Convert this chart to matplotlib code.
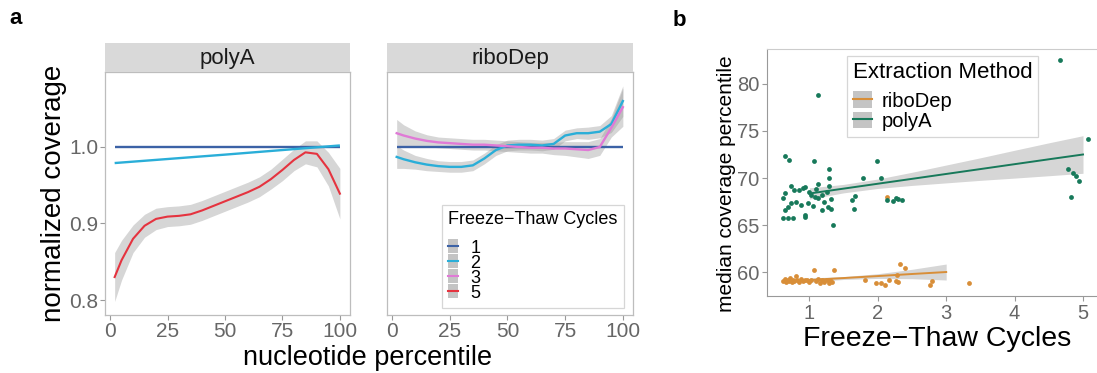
import matplotlib
matplotlib.use('Agg')
import matplotlib.pyplot as plt
from matplotlib.lines import Line2D
from matplotlib.patches import Patch
import numpy as np

plt.rcParams['font.family'] = ['Liberation Sans', 'DejaVu Sans']

# ---------------- data: panel a ----------------
pct = [2, 5, 10, 15, 20, 25, 30, 35, 40, 45, 50, 55, 60, 65, 70, 75, 80, 85, 90, 95, 100]

# polyA facet
polyA_c1_x = [2, 100]
polyA_c1_y = [1.0, 1.0]
polyA_c2_x = [2, 50, 100]
polyA_c2_y = [0.979, 0.990, 1.002]
polyA_c5_y = [0.830, 0.852, 0.880, 0.897, 0.906, 0.909, 0.910, 0.912, 0.917, 0.923, 0.929,
              0.935, 0.941, 0.948, 0.958, 0.970, 0.983, 0.993, 0.991, 0.971, 0.939]
polyA_c5_se = [0.032, 0.026, 0.018, 0.015, 0.014, 0.013, 0.013, 0.013, 0.013, 0.013, 0.013,
               0.013, 0.013, 0.013, 0.013, 0.014, 0.014, 0.015, 0.017, 0.022, 0.033]

# riboDep facet
ribo_c1_x = [2, 100]
ribo_c1_y = [1.0, 1.0]
ribo_c2_y = [0.987, 0.984, 0.980, 0.977, 0.975, 0.974, 0.974, 0.976, 0.985, 0.996, 1.002,
             1.003, 1.003, 1.002, 1.004, 1.015, 1.018, 1.018, 1.020, 1.030, 1.060]
ribo_c2_se = [0.015, 0.012, 0.009, 0.008, 0.007, 0.007, 0.007, 0.007, 0.007, 0.007, 0.007,
              0.007, 0.007, 0.007, 0.007, 0.007, 0.007, 0.008, 0.008, 0.011, 0.020]
ribo_c3_y = [1.018, 1.015, 1.011, 1.008, 1.006, 1.005, 1.004, 1.003, 1.003, 1.002, 1.001,
             1.000, 0.999, 0.999, 0.998, 0.998, 0.997, 0.996, 1.000, 1.025, 1.052]
ribo_c3_se = [0.018, 0.014, 0.010, 0.008, 0.007, 0.007, 0.007, 0.007, 0.007, 0.007, 0.007,
              0.007, 0.007, 0.007, 0.008, 0.009, 0.010, 0.011, 0.011, 0.012, 0.025]

cycle_labels = ['1', '2', '3', '5']
cycle_colors = ['#3c62a6', '#2aaed8', '#e07ad6', '#e5333f']

# ---------------- data: panel b ----------------
polyA_x = [0.64, 0.70, 1.07, 1.13, 1.99, 1.28, 1.28, 1.28, 1.78, 2.05, 4.67, 5.08, 4.78, 4.85,
           4.90, 4.94, 4.82, 1.13, 0.73, 0.78, 0.85, 0.64, 0.61, 1.00, 1.02, 1.19, 1.31, 1.22,
           0.73, 0.81, 0.88, 0.69, 0.64, 0.98, 1.05, 1.27, 1.31, 1.19, 1.63, 1.65, 1.67, 0.61,
           0.68, 0.76, 0.93, 0.94, 1.34, 2.14, 2.22, 2.26, 2.30, 2.35, 1.10, 1.25, 0.93, 1.08,
           1.12, 0.90]
polyA_y = [72.3, 71.9, 71.8, 78.8, 71.8, 71.0, 70.0, 69.1, 70.0, 70.0, 82.55, 74.1, 71.0, 70.5,
           70.2, 69.7, 68.0, 69.4, 69.1, 68.7, 68.7, 68.4, 67.9, 68.5, 68.2, 68.2, 67.8, 67.5,
           67.3, 67.4, 67.1, 66.9, 66.6, 67.3, 67.0, 66.9, 66.7, 66.6, 67.7, 66.7, 68.1, 65.7,
           65.7, 65.7, 65.8, 66.1, 65.0, 67.7, 67.6, 67.9, 67.8, 67.7, 68.8, 68.5, 69.0, 68.0,
           67.9, 68.9]
ribo_x = [0.62, 0.64, 0.66, 0.68, 0.70, 0.72, 0.74, 0.76, 0.78, 0.80, 0.82, 0.85, 0.88, 0.90,
          0.93, 0.96, 1.00, 1.03, 1.07, 1.10, 1.13, 1.16, 1.19, 1.22, 1.25, 1.28, 1.30, 1.33,
          1.36, 1.82, 1.97, 2.04, 2.11, 2.16, 2.26, 2.28, 2.33, 2.40, 2.30, 2.76, 2.79, 3.34,
          2.13]
ribo_y = [59.0, 59.3, 58.9, 59.2, 59.0, 59.4, 58.9, 59.2, 59.0, 59.6, 59.1, 58.9, 59.3, 59.0,
          59.2, 59.1, 58.9, 59.2, 60.2, 59.0, 59.3, 58.8, 59.1, 58.9, 59.2, 58.8, 59.1, 58.9,
          60.2, 59.15, 58.8, 58.8, 58.6, 59.15, 59.0, 59.7, 60.9, 60.4, 58.9, 58.6, 59.0, 58.8,
          68.0]

fit_polyA_x = [1.0, 1.5, 2.0, 2.5, 3.0, 3.5, 4.0, 4.5, 5.0]
fit_polyA_y = [68.35, 68.87, 69.39, 69.91, 70.43, 70.95, 71.47, 71.99, 72.5]
fit_polyA_se = [0.6, 0.45, 0.5, 0.7, 0.95, 1.2, 1.48, 1.75, 2.0]
fit_ribo_x = [1.0, 1.5, 2.0, 2.5, 3.0]
fit_ribo_y = [59.15, 59.36, 59.57, 59.79, 60.0]
fit_ribo_se = [0.22, 0.15, 0.25, 0.5, 0.85]

method_labels = ['riboDep', 'polyA']
method_colors = ['#d88e38', '#17795a']

# ---------------- layout ----------------
W, H = 1097, 373
fig = plt.figure(figsize=(W / 100, H / 100), dpi=100)


def rect(l, t, r, b):
    return [l / W, 1 - b / H, (r - l) / W, (b - t) / H]


axA1 = fig.add_axes(rect(105, 72, 350, 315))
axA2 = fig.add_axes(rect(387, 72, 633, 315))
axB = fig.add_axes(rect(767, 49, 1096, 296))

tick_col = '#666666'
for ax in (axA1, axA2):
    ax.set_xlim(-2.2, 104.4)
    ax.set_ylim(0.7804, 1.098)
    ax.set_xticks([0, 25, 50, 75, 100])
    ax.tick_params(axis='both', length=3.5, width=0.8, color='#999999',
                   labelcolor=tick_col, labelsize=15, pad=1.5)
    for s in ax.spines.values():
        s.set_color('#bdbdbd')
        s.set_linewidth(0.9)
axA1.set_yticks([0.8, 0.9, 1.0])
axA1.set_yticklabels(['0.8', '0.9', '1.0'])
axA2.set_yticks([])

# strips
for (l, r, lab) in ((105, 350, 'polyA'), (387, 633, 'riboDep')):
    sax = fig.add_axes(rect(l, 43, r, 72))
    sax.set_xticks([]); sax.set_yticks([])
    sax.set_facecolor('#d9d9d9')
    for s in sax.spines.values():
        s.set_visible(False)
    sax.text(0.5, 0.47, lab, ha='center', va='center', fontsize=16, color='#1a1a1a',
             transform=sax.transAxes)

band_col = '#999999'
pct_a = np.array(pct)

# polyA facet
y5 = np.array(polyA_c5_y); s5 = np.array(polyA_c5_se)
axA1.fill_between(pct_a, y5 - s5, y5 + s5, color=band_col, alpha=0.4, lw=0)
axA1.plot(polyA_c1_x, polyA_c1_y, color=cycle_colors[0], lw=1.7, solid_capstyle='butt')
axA1.plot(polyA_c2_x, polyA_c2_y, color=cycle_colors[1], lw=1.7, solid_capstyle='butt')
axA1.plot(pct_a, y5, color=cycle_colors[3], lw=1.5)

# riboDep facet
y2 = np.array(ribo_c2_y); s2 = np.array(ribo_c2_se)
y3 = np.array(ribo_c3_y); s3 = np.array(ribo_c3_se)
axA2.fill_between(pct_a, y2 - s2, y2 + s2, color=band_col, alpha=0.4, lw=0)
axA2.fill_between(pct_a, y3 - s3, y3 + s3, color=band_col, alpha=0.4, lw=0)
axA2.plot(ribo_c1_x, ribo_c1_y, color=cycle_colors[0], lw=1.7, solid_capstyle='butt')
axA2.plot(pct_a, y2, color=cycle_colors[1], lw=1.7)
axA2.plot(pct_a, y3, color=cycle_colors[2], lw=1.7)

handles_a = [(Patch(facecolor='#c4c4c4', edgecolor='none'),
              Line2D([], [], color=c, lw=1.5)) for c in cycle_colors]
legA = axA2.legend(handles_a, cycle_labels, title='Freeze\u2212Thaw Cycles',
                   loc='upper left', bbox_to_anchor=(0.222, 0.453), borderaxespad=0,
                   fontsize=13, title_fontsize=13, frameon=True, fancybox=False,
                   edgecolor='#cccccc', borderpad=0.35, handlelength=0.55, handleheight=0.8,
                   handletextpad=0.7, labelspacing=-0.12, alignment='left')
legA.get_frame().set_linewidth(0.9)
legA._legend_box.sep = 8

fig.text(54 / W, 1 - 193.5 / H, 'normalized coverage', rotation=90, ha='center',
         va='center', fontsize=20)
fig.text(367.5 / W, 1 - 358 / H, 'nucleotide percentile', ha='center', va='center',
         fontsize=19.5)

# ---------------- panel b ----------------
axB.set_xlim(0.38, 5.19)
axB.set_ylim(57.45, 83.72)
axB.set_xticks([1, 2, 3, 4, 5])
axB.set_yticks([60, 65, 70, 75, 80])
axB.tick_params(axis='both', length=3.5, width=0.8, color='#999999',
                labelcolor=tick_col, labelsize=14.5, pad=2)
axB.spines['left'].set_color('#999999')
axB.spines['bottom'].set_color('#999999')
axB.spines['top'].set_color('#cccccc')
axB.spines['right'].set_visible(False)

axB.scatter(ribo_x, ribo_y, s=12, color=method_colors[0], lw=0, zorder=3)
axB.scatter(polyA_x, polyA_y, s=12, color=method_colors[1], lw=0, zorder=3)

fx = np.array(fit_ribo_x); fy = np.array(fit_ribo_y); fs = np.array(fit_ribo_se)
axB.fill_between(fx, fy - fs, fy + fs, color=band_col, alpha=0.4, lw=0, zorder=2)
axB.plot(fx, fy, color=method_colors[0], lw=1.4, zorder=4)
fx = np.array(fit_polyA_x); fy = np.array(fit_polyA_y); fs = np.array(fit_polyA_se)
axB.fill_between(fx, fy - fs, fy + fs, color=band_col, alpha=0.4, lw=0, zorder=2)
axB.plot(fx, fy, color=method_colors[1], lw=1.4, zorder=4)

handles_b = [(Patch(facecolor='#c4c4c4', edgecolor='none'),
              Line2D([], [], color=c, lw=1.5)) for c in method_colors]
legB = axB.legend(handles_b, method_labels, title='Extraction Method',
                  loc='upper left', bbox_to_anchor=(0.2424, 0.9717), borderaxespad=0,
                  fontsize=14.5, title_fontsize=16, frameon=True, fancybox=False,
                  edgecolor='#cccccc', borderpad=0.3, handlelength=0.95, handleheight=0.9,
                  handletextpad=0.5, labelspacing=0.05, alignment='left')
legB.get_frame().set_linewidth(0.9)
legB._legend_box.sep = 6

fig.text(727 / W, 1 - 184 / H, 'median coverage percentile', rotation=90, ha='center',
         va='center', fontsize=15)
fig.text(937.5 / W, 1 - 339 / H, 'Freeze\u2212Thaw Cycles', ha='center', va='center',
         fontsize=20.5)

fig.text(16 / W, 1 - 18 / H, 'a', ha='center', va='center', fontsize=16, fontweight='bold')
fig.text(679 / W, 1 - 20 / H, 'b', ha='center', va='center', fontsize=16, fontweight='bold')

fig.savefig('out.png', dpi=100, facecolor='white')
